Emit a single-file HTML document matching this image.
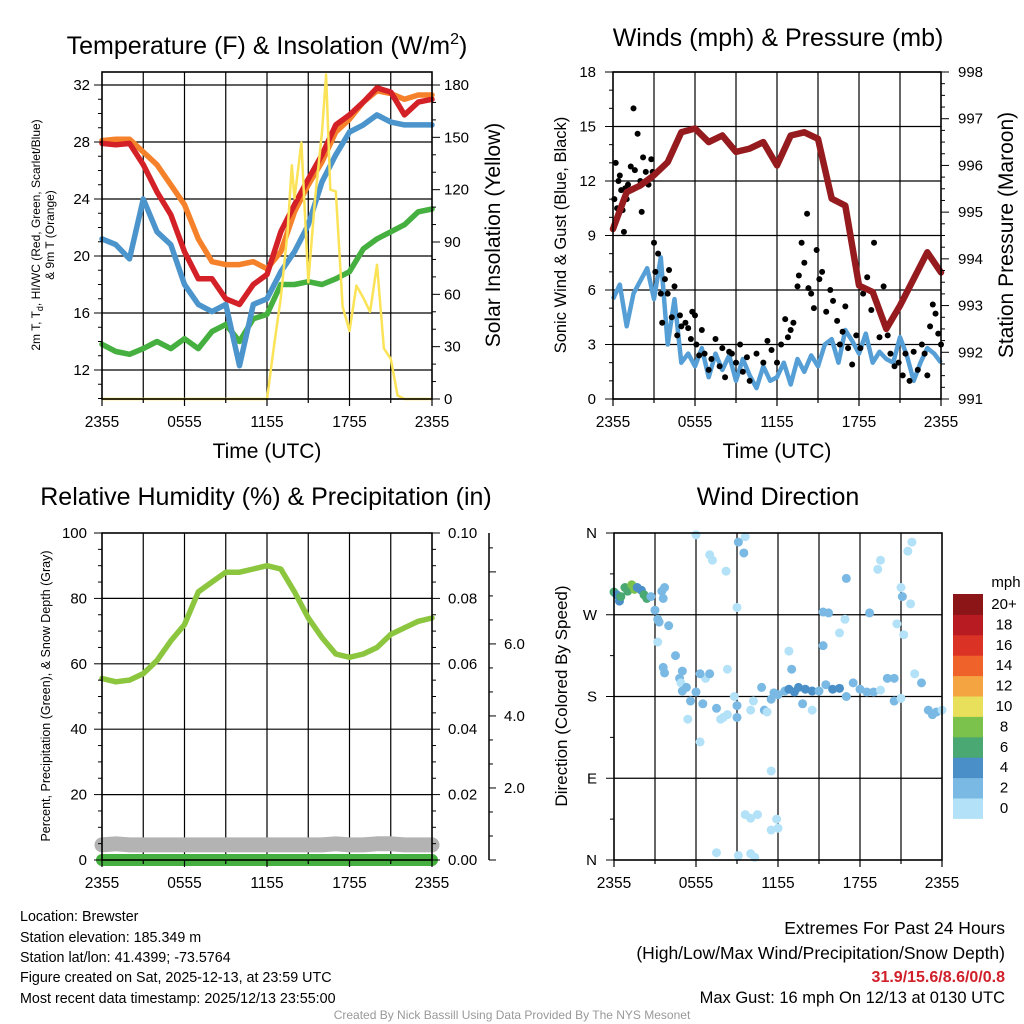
<!DOCTYPE html>
<html><head><meta charset="utf-8"><style>
html,body{margin:0;padding:0;background:#fff}
svg{display:block;font-family:"Liberation Sans",sans-serif}
</style></head><body>
<svg id="c" width="1024" height="1024" viewBox="0 0 1024 1024" xmlns="http://www.w3.org/2000/svg">
<g id="g1"></g>
<g id="g2"></g>
<g id="g3"></g>
<g id="g4"></g>
<g font-size="14.3" fill="#000">
<text x="20" y="921">Location: Brewster</text>
<text x="20" y="942">Station elevation: 185.349 m</text>
<text x="20" y="962">Station lat/lon: 41.4399; -73.5764</text>
<text x="20" y="982">Figure created on Sat, 2025-12-13, at 23:59 UTC</text>
<text x="20" y="1003">Most recent data timestamp: 2025/12/13 23:55:00</text>
<text x="1005" y="934" text-anchor="end" font-size="17.5">Extremes For Past 24 Hours</text>
<text x="1005" y="959" text-anchor="end" font-size="17.5">(High/Low/Max Wind/Precipitation/Snow Depth)</text>
<text x="1005" y="982" text-anchor="end" font-size="16" fill="#d0202a" font-weight="bold">31.9/15.6/8.6/0/0.8</text>
<text x="1005" y="1003" text-anchor="end" font-size="16.5">Max Gust: 16 mph On 12/13 at 0130 UTC</text>
<text x="512" y="1019" text-anchor="middle" font-size="12" fill="#999">Created By Nick Bassill Using Data Provided By The NYS Mesonet</text>
</g>
</svg>
<script>
// ---------- data ----------
const xTickLabels = ["2355","0555","1155","1755","2355"];
const hourly = [0,1,2,3,4,5,6,7,8,9,10,11,12,13,14,15,16,17,18,19,20,21,22,23,24];
const tempRed = [27.9,27.8,27.9,26.4,24.5,22.9,20.3,18.4,18.4,17.0,16.6,18.0,18.7,21.7,23.6,25.4,27.1,29.2,29.9,30.8,31.8,31.5,29.9,30.8,31.0];
const tempOrange = [28.1,28.2,28.2,27.3,26.4,25.0,23.6,21.2,19.6,19.4,19.4,19.6,19.1,20.3,23.1,25.0,26.6,28.7,29.6,30.8,31.6,31.4,31.0,31.3,31.3];
const tempBlue = [21.2,20.8,19.8,24.0,21.7,20.8,18.0,16.6,16.1,16.6,12.3,16.6,17.0,18.9,20.3,22.2,25.2,27.1,28.7,29.2,29.9,29.4,29.2,29.2,29.2];
const tempGreen = [13.8,13.3,13.1,13.5,14.0,13.5,14.2,13.5,14.7,15.2,14.0,15.6,15.9,18.0,18.0,18.2,18.0,18.4,18.9,20.5,21.2,21.7,22.2,23.1,23.3];
const solarHours = [0,12,12.5,13,13.5,13.8,14,14.5,15,15.5,16,16.3,16.6,17,17.5,18,18.5,19,19.5,20,20.5,21,21.5,22,24];
const solarVals = [0,0,30,58,96,134,115,147,67,115,153,186,120,119,53,39,65,58,50,77,29,23,2,0,0];
const tempTicks = [12,16,20,24,28,32];
const solarTicks = [0,30,60,90,120,150,180];

const halfHours = [0,0.5,1,1.5,2,2.5,3,3.5,4,4.5,5,5.5,6,6.5,7,7.5,8,8.5,9,9.5,10,10.5,11,11.5,12,12.5,13,13.5,14,14.5,15,15.5,16,16.5,17,17.5,18,18.5,19,19.5,20,20.5,21,21.5,22,22.5,23,23.5,24];
const windVals = [5.5,6.3,4.0,5.8,6.5,7.2,5.5,7.8,3.0,5.5,2.0,2.5,1.8,2.8,1.2,2.5,1.6,2.4,1.0,2.2,1.3,0.6,1.8,1.0,1.2,2.0,0.8,2.2,1.5,2.4,1.8,3.0,3.3,2.0,3.8,3.2,2.5,3.6,2.0,2.6,2.2,2.0,3.4,2.4,1.0,2.0,2.8,2.5,2.0];
const pressureVals = [994.64,995.43,995.57,995.79,996.07,996.71,996.79,996.5,996.64,996.29,996.36,996.5,996.0,996.64,996.71,996.57,995.29,995.14,993.43,993.29,992.5,993.0,993.57,994.14,993.71];
const gustHours = [0.1,0.2,0.3,0.4,0.5,0.6,0.7,0.8,0.9,1.0,1.1,1.3,1.5,1.6,1.8,2.0,2.1,2.2,2.4,2.6,2.8,2.9,3.0,3.1,3.3,3.5,3.6,3.8,4.0,4.1,4.3,4.5,4.7,4.9,5.0,5.3,5.5,5.7,5.8,6.0,6.1,6.3,6.5,6.7,7.0,7.2,7.5,7.8,8.0,8.2,8.5,8.7,9.0,9.3,9.5,9.8,10.0,10.5,11.0,11.3,11.6,12.0,12.3,12.6,12.8,13.0,13.2,13.5,13.6,13.8,14.0,14.2,14.3,14.5,14.7,14.9,15.1,15.3,15.6,15.9,16.1,16.4,16.6,16.8,17.0,17.2,17.5,17.8,18.1,18.3,18.6,18.9,19.1,19.3,19.5,19.8,20.1,20.3,20.6,20.9,21.2,21.4,21.7,22.0,22.3,22.6,22.8,23.0,23.2,23.4,23.6,23.8,24.0];
const gustVals = [11,13,10.5,12,12.3,11.5,10.4,9.2,11.6,11,11.8,12.8,16,12.6,14.6,12,10.3,13.3,12.5,11.8,13.2,12.5,8.6,7.0,8.0,5.8,4.2,6.6,5.8,7.1,4.5,6.2,3.5,4.6,4.0,4.2,3.9,3.3,4.8,4.6,3.0,2.4,3.8,2.5,1.6,2.2,3.3,1.8,2.8,1.2,2.6,2.5,2.0,3.0,1.5,2.3,1.0,2.5,2.0,3.2,2.7,2.0,3.0,4.4,3.4,3.8,4.2,6.2,6.8,8.6,7.5,10.2,6.1,5.8,5.0,8.2,6.6,7.0,4.8,6.0,5.4,4.3,3.0,3.7,5.1,2.8,1.9,3.5,2.8,5.8,6.7,4.9,8.6,5.3,3.4,6.2,3.5,2.5,1.8,2.0,1.3,2.5,1.0,2.6,1.6,3.0,2.5,1.3,4.0,5.2,4.7,3.6,3.0];
const windTicks = [0,3,6,9,12,15,18];
const pressTicks = [991,992,993,994,995,996,997,998];

const rhVals = [55.5,54.5,55,57,61,67,72,82,85,88,88,89,90,89,82,74,68,63,62,63,65,69,71,73,74];
const precipVals = [0,0,0,0,0,0,0,0,0,0,0,0,0,0,0,0,0,0,0,0,0,0,0,0,0];
const snowVals = [0.42,0.45,0.42,0.42,0.42,0.42,0.42,0.42,0.42,0.42,0.42,0.42,0.42,0.42,0.42,0.42,0.42,0.45,0.42,0.42,0.45,0.45,0.42,0.42,0.42];
const rhTicks = [0,20,40,60,80,100];
const precipTicks = ["0.00","0.02","0.04","0.06","0.08","0.10"];
const snowTicks = [2,4,6];

const dirHours = [0.0,0.2,0.4,0.5,0.8,1.0,1.3,1.5,1.7,2.0,2.2,2.4,2.7,3.0,3.2,3.3,3.5,3.7,3.6,4.0,3.2,4.5,3.6,3.7,4.8,5.0,4.9,5.3,5.0,5.6,5.4,6.0,6.0,6.5,6.7,6.3,7.0,7.5,7.8,8.0,8.3,8.8,9.0,9.0,9.1,9.6,7.0,7.2,9.5,8.2,9.0,10.8,11.0,11.2,11.5,11.7,12.0,12.5,12.8,13.2,13.5,14.0,14.5,15.0,15.5,16.0,16.5,17.0,17.5,18.0,18.5,19.0,19.5,20.0,20.5,11.5,10.5,11.9,12.0,11.5,9.6,10.0,7.5,9.1,10.0,10.3,13.0,12.8,15.3,15.3,15.7,16.5,16.9,17.0,18.7,19.3,19.5,20.7,21.2,21.0,21.5,21.8,21.1,21.7,20.5,21.0,22.5,23.0,23.3,23.6,24.0,22.0,14.5,13.8,10.0,10.2,8.3,6.3];
const dirVals = [295,292,285,290,300,296,303,298,300,297,292,288,290,275,265,262,296,300,288,258,240,225,212,206,200,208,195,190,186,175,155,185,358,172,200,130,205,167,155,157,160,180,170,157,350,356,336,330,338,318,278,190,165,163,177,184,182,186,188,185,190,188,186,186,193,188,189,180,195,188,185,185,187,200,200,98,50,45,35,33,50,46,8,5,7,3,210,230,236,273,272,250,265,310,272,320,330,260,248,300,340,350,290,282,175,178,195,165,160,163,165,205,165,172,165,175,210,205];
const dirSpeeds = [6,4,4,6,7,6,8,8,5,4,6,6,3,2,2,2,2,2,2,2,1,2,2,2,2,2,1,2,2,2,1,2,1,2,1,1,2,2,1,1,1,1,2,2,2,1,1,1,2,1,1,2,2,1,2,2,2,2,4,4,4,4,4,2,2,4,4,2,2,2,2,2,1,2,2,1,1,1,1,1,1,1,1,1,1,1,2,1,2,2,2,1,1,2,2,1,1,1,1,1,1,1,2,1,2,1,2,2,2,2,1,1,1,2,1,1,1,2];
const dirTicks = ["N","E","S","W","N"];
const cbLabels = ["0","2","4","6","8","10","12","14","16","18","20+"];
const cbColors = ["#b3e2f8","#7ab9e3","#4a8fc7","#4aa872","#7bc24c","#e8e05a","#f4a542","#ef6229","#db3226","#b81b22","#8b1517"];

// ---------- helpers ----------
const NS="http://www.w3.org/2000/svg";
function mk(parent,tag,attrs,text){const e=document.createElementNS(NS,tag);for(const k in attrs)e.setAttribute(k,attrs[k]);if(text!==undefined)e.textContent=text;parent.appendChild(e);return e;}
function lin(d0,d1,r0,r1){return v=>r0+(v-d0)/(d1-d0)*(r1-r0);}
function pathD(xs,ys,fx,fy){let d="";for(let i=0;i<xs.length;i++){if(ys[i]===null)continue;d+=(d?"L":"M")+fx(xs[i]).toFixed(1)+","+fy(ys[i]).toFixed(1);}return d;}

function frame(g,L,T,R,B,hLines){
  const fx=lin(0,24,L,R);
  for(let h=3;h<24;h+=3){const l=mk(g,"line",{x1:fx(h),x2:fx(h),y1:T,y2:B,stroke:"#000","stroke-width":1.2});
    
    }
  hLines.forEach(y=>{const l=mk(g,"line",{x1:L,x2:R,y1:y,y2:y,stroke:"#000","stroke-width":1.2});
    
    });
  return fx;
}
function border(g,L,T,R,B){const r=mk(g,"rect",{x:L,y:T,width:R-L,height:B-T,fill:"none",stroke:"#000","stroke-width":1.6});
  
  }
function xAxis(g,L,R,B,withTitle){
  const fx=lin(0,24,L,R);
  for(let h=0;h<=24;h+=3){mk(g,"line",{x1:fx(h),x2:fx(h),y1:B,y2:B+(h%6==0?7:4),stroke:"#000","stroke-width":1.2});}
  xTickLabels.forEach((s,i)=>{const t=mk(g,"text",{x:fx(i*6),y:B+28,"text-anchor":"middle","font-size":15.5},s);
    
    });
  if(withTitle){const t=mk(g,"text",{x:(L+R)/2,y:B+59,"text-anchor":"middle","font-size":21},"Time (UTC)");
    
    }
}
function vText(g,x,y,txt,size,name){const t=mk(g,"text",{x:x,y:y,"text-anchor":"middle","font-size":size,transform:`rotate(-90 ${x} ${y})`},txt);
  
  return t;}
function title(g,x,y,txt,name){const t=mk(g,"text",{x:x,y:y,"text-anchor":"middle","font-size":25},txt);
  
  return t;}

// ---------- panel 1 ----------
(function(){
  const g=document.getElementById("g1");const L=102,T=72,R=432,B=399;
  const fy=lin(12,32,370,85), fs=lin(0,180,399,85);
  const fx=frame(g,L,T,R,B,tempTicks.map(fy));
  const series=[[tempGreen,"#45b03f","td-line"],[tempBlue,"#4b94cc","hiwc-line"],[tempOrange,"#f5822a","t9m-line"],[tempRed,"#d42027","t2m-line"]];
  series.forEach(s=>{const p=mk(g,"path",{d:pathD(hourly,s[0],fx,fy),fill:"none",stroke:s[1],"stroke-width":5.5,"stroke-linejoin":"round","stroke-linecap":"round"});
    
    });
  const sp=mk(g,"path",{d:pathD(solarHours,solarVals,fx,fs),fill:"none",stroke:"#fbe357","stroke-width":2.5,"stroke-linejoin":"round"});
  
  
  border(g,L,T,R,B);
  for(let v=10;v<=32;v++){const y=fy(v);if(y<T)continue;mk(g,"line",{x1:L-(v%4==0?8:4),x2:L,y1:y,y2:y,stroke:"#000"});}
  tempTicks.forEach(v=>{const t=mk(g,"text",{x:L-12,y:fy(v)+5,"text-anchor":"end","font-size":15},v);
    
    });
  for(let v=0;v<=180;v+=10){const y=fs(v);mk(g,"line",{x1:R,x2:R+(v%30==0?8:4),y1:y,y2:y,stroke:"#000"});}
  solarTicks.forEach(v=>{const t=mk(g,"text",{x:R+12,y:fs(v)+5,"font-size":15},v);
    
    });
  xAxis(g,L,R,B,true);
  const tt=mk(g,"text",{x:267,y:54,"text-anchor":"middle","font-size":25},"Temperature (F) & Insolation (W/m");
  
  
  mk(tt,"tspan",{dy:-10,"font-size":16},"2");mk(tt,"tspan",{dy:10},")");
  const a=mk(g,"text",{x:40,y:235,"text-anchor":"middle","font-size":12,transform:"rotate(-90 40 235)"},"2m T, T");
  
  
  mk(a,"tspan",{dy:3,"font-size":9},"d");mk(a,"tspan",{dy:-3},", HI/WC (Red, Green, Scarlet/Blue)");
  vText(g,54,235,"& 9m T (Orange)",12,"left-axis-title-line2");
  vText(g,500,235,"Solar Insolation (Yellow)",21,"right-axis-title");
})();

// ---------- panel 2 ----------
(function(){
  const g=document.getElementById("g2");const L=613,T=72,R=941,B=399;
  const fy=lin(0,18,399,72), fp=lin(991,998,399,72);
  const fx=frame(g,L,T,R,B,windTicks.map(fy));
  const w=mk(g,"path",{d:pathD(halfHours,windVals,fx,fy),fill:"none",stroke:"#569fd6","stroke-width":4.5,"stroke-linejoin":"round"});
  
  
  gustHours.forEach((h,i)=>{const c=mk(g,"circle",{cx:fx(h),cy:fy(gustVals[i]),r:3,fill:"#000"});
    
    });
  const p=mk(g,"path",{d:pathD(hourly,pressureVals,fx,fp),fill:"none",stroke:"#951b1e","stroke-width":6.5,"stroke-linejoin":"round","stroke-linecap":"round"});
  
  
  border(g,L,T,R,B);
  for(let v=0;v<=18;v++){const y=fy(v);mk(g,"line",{x1:L-(v%3==0?8:4),x2:L,y1:y,y2:y,stroke:"#000"});}
  windTicks.forEach(v=>{const t=mk(g,"text",{x:L-17,y:fy(v)+5,"text-anchor":"end","font-size":15},v);
    
    });
  for(let v=991;v<=998.001;v+=0.25){const y=fp(v);mk(g,"line",{x1:R,x2:R+(Math.abs(v-Math.round(v))<0.01?8:4),y1:y,y2:y,stroke:"#000"});}
  pressTicks.forEach(v=>{const t=mk(g,"text",{x:R+17,y:fp(v)+5,"font-size":15},v);
    
    });
  xAxis(g,L,R,B,true);
  title(g,778,46,"Winds (mph) & Pressure (mb)","winds-title");
  vText(g,566,235,"Sonic Wind & Gust (Blue, Black)",16.5,"left-axis-title");
  vText(g,1013,235,"Station Pressure (Maroon)",21,"right-axis-title");
})();

// ---------- panel 3 ----------
(function(){
  const g=document.getElementById("g3");const L=102,T=533,R=432,B=860;
  const fy=lin(0,100,860,533), fp=lin(0,0.1,860,533), fsn=lin(0,9.08,860,533);
  const fx=frame(g,L,T,R,B,[20,40,60,80].map(fy));
  const s=mk(g,"path",{d:pathD(hourly,snowVals,fx,fsn),fill:"none",stroke:"#b3b3b3","stroke-width":15,"stroke-linejoin":"round","stroke-linecap":"round"});
  
  
  const pr=mk(g,"path",{d:pathD(hourly,precipVals,fx,fp),fill:"none",stroke:"#45b03f","stroke-width":12,"stroke-linecap":"round"});
  
  
  const rh=mk(g,"path",{d:pathD(hourly,rhVals,fx,fy),fill:"none",stroke:"#8cc63f","stroke-width":5.5,"stroke-linejoin":"round","stroke-linecap":"round"});
  
  
  border(g,L,T,R,B);
  for(let v=0;v<=100;v+=5){const y=fy(v);mk(g,"line",{x1:L-(v%20==0?8:4),x2:L,y1:y,y2:y,stroke:"#000"});}
  rhTicks.forEach(v=>{const t=mk(g,"text",{x:L-15,y:fy(v)+5,"text-anchor":"end","font-size":15},v);
    
    });
  for(let i=0;i<=20;i++){const y=fp(i*0.005);mk(g,"line",{x1:R,x2:R+(i%4==0?8:4),y1:y,y2:y,stroke:"#000"});}
  precipTicks.forEach(v=>{const t=mk(g,"text",{x:R+16,y:fp(parseFloat(v))+5,"font-size":15},v);
    
    });
  mk(g,"line",{x1:489,x2:489,y1:T,y2:B,stroke:"#000","stroke-width":1.5});
  for(let v=0;v<=9;v+=2/3){const y=fsn(v);mk(g,"line",{x1:489,x2:489+(Math.abs(v/2-Math.round(v/2))<0.01?7:4),y1:y,y2:y,stroke:"#000"});}
  snowTicks.forEach(v=>{const t=mk(g,"text",{x:504,y:fsn(v)+5,"font-size":15},v.toFixed(1));
    
    });
  xAxis(g,L,R,B,false);
  title(g,266,505,"Relative Humidity (%) & Precipitation (in)","humidity-title");
  vText(g,50,696,"Percent, Precipitation (Green), & Snow Depth (Gray)",12.5,"left-axis-title");
})();

// ---------- panel 4 ----------
(function(){
  const g=document.getElementById("g4");const L=614,T=533,R=942,B=860;
  const fy=lin(0,360,860,533);
  const fx=frame(g,L,T,R,B,[90,180,270].map(fy));
  dirHours.forEach((h,i)=>{const c=mk(g,"circle",{cx:fx(h),cy:fy(dirVals[i]),r:4.5,fill:cbColors[Math.min(10,Math.floor(dirSpeeds[i]/2))]});
    
    });
  border(g,L,T,R,B);
  for(let v=0;v<=360;v+=45){const y=fy(v);mk(g,"line",{x1:L-(v%90==0?8:4),x2:L,y1:y,y2:y,stroke:"#000"});}
  dirTicks.forEach((s,i)=>{const t=mk(g,"text",{x:L-17,y:fy(i*90)+5,"text-anchor":"end","font-size":15},s);
    
    });
  xAxis(g,L,R,B,false);
  title(g,778,505,"Wind Direction","direction-title");
  vText(g,567,696,"Direction (Colored By Speed)",17,"left-axis-title");
  const cb=mk(g,"g",{});
  
  
  const top=594,h=20.4;
  cbColors.forEach((c,i)=>{const r=mk(cb,"rect",{x:953,y:top+(10-i)*h,width:30,height:h+0.5,fill:c});
    
    });
  cbLabels.forEach((s,i)=>{const t=mk(cb,"text",{x:1004,y:top+(10-i)*h+15,"text-anchor":"middle","font-size":15},s);
    
    });
  const u=mk(cb,"text",{x:1006,y:587,"text-anchor":"middle","font-size":15},"mph");
  
  
})();
</script>
</body></html>
